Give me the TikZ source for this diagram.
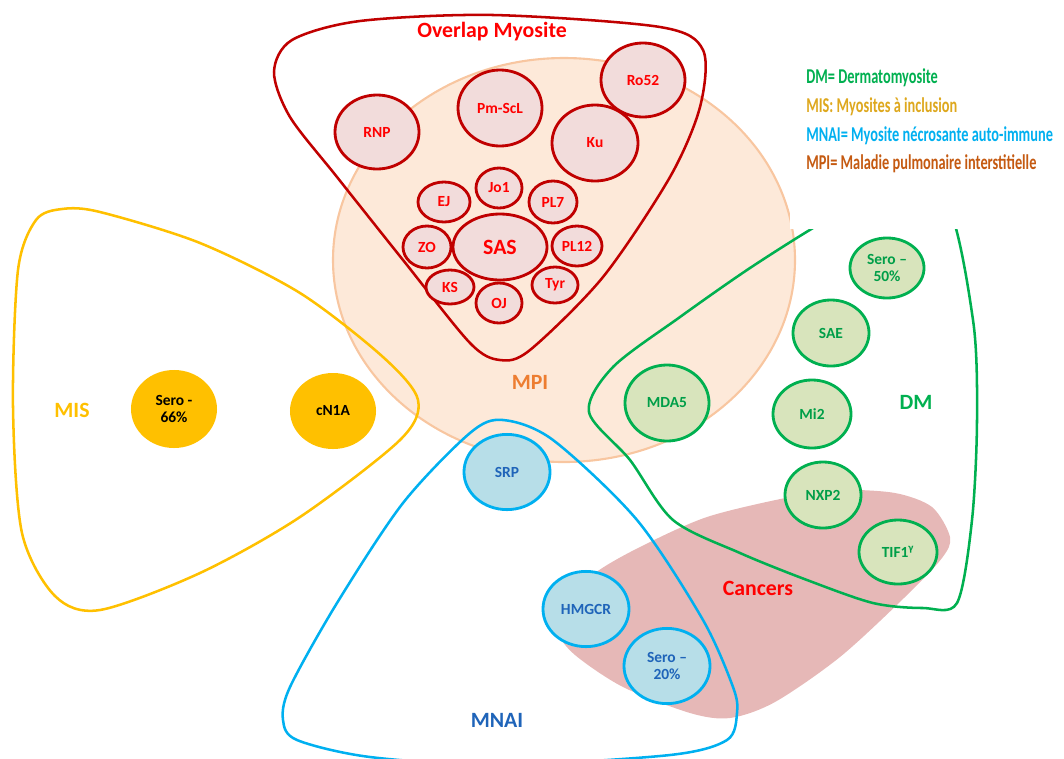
\documentclass[tikz,border=0pt]{standalone}
\usepackage{fontspec}
\setmainfont{Carlito}
\usetikzlibrary{shapes.geometric}

\definecolor{darkred}{RGB}{192,0,0}
\definecolor{pinkfill}{RGB}{242,220,219}
\definecolor{peach}{RGB}{253,233,217}
\definecolor{peachline}{RGB}{248,198,160}
\definecolor{mpiorange}{RGB}{237,125,49}
\definecolor{misyellow}{RGB}{255,192,0}
\definecolor{misdark}{RGB}{222,168,30}
\definecolor{dmgreen}{RGB}{0,176,80}
\definecolor{dmfill}{RGB}{216,228,188}
\definecolor{mnaiblue}{RGB}{0,176,240}
\definecolor{mnaifill}{RGB}{183,222,232}
\definecolor{mnaitext}{RGB}{31,100,185}
\definecolor{cancerfill}{RGB}{230,184,183}
\definecolor{mpibrown}{RGB}{197,90,17}

\begin{document}
\begin{tikzpicture}[x=0.025cm,y=-0.025cm]
		\tikzstyle{bubble}=[ellipse,inner sep=0pt,line width=2pt,align=center,font=\bfseries\fontsize{11}{12.5}\selectfont]
		\tikzstyle{overlapbub}=[bubble,draw=darkred,fill=pinkfill,text=red]
		\tikzstyle{dmbub}=[bubble,draw=dmgreen,fill=dmfill,text=dmgreen!90!black]
		\tikzstyle{mnaibub}=[bubble,draw=mnaiblue,fill=mnaifill,text=mnaitext]
		\tikzstyle{misbub}=[bubble,fill=misyellow,text=black]
		\tikzstyle{group}=[line width=1.8pt]
		\tikzstyle{grouplabel}=[font=\bfseries\fontsize{15.5}{17}\selectfont]
		\tikzstyle{legend}=[anchor=base west,inner sep=0pt,font=\bfseries\fontsize{15}{17}\selectfont]
		\useasboundingbox (0,0) rectangle (1064,758);
		
		\fill[peach,draw=peachline,line width=1.5pt] (564,260) ellipse [x radius=231, y radius=202];
		\fill[cancerfill] plot[smooth cycle] coordinates {(950,537) (932,507) (895,493) (840,490) (790,497) (707,517) (640,547) (595,573) (562,605) (558,632) (575,655) (623,687) (690,713) (730,718) (775,702) (840,657) (905,597) (942,558)};
		
		\draw[group,misyellow] plot[smooth cycle] coordinates {(36,220) (62,209) (100,212) (200,243) (300,293) (383,357) (418,400) (400,440) (300,517) (200,573) (100,610) (55,596) (22,533) (13,407) (18,270)};
		\draw[group,darkred] plot[smooth cycle] coordinates {(274,72) (292,40) (360,21) (493,15) (660,27) (703,50) (700,107) (670,177) (603,277) (530,350) (500,360) (470,343) (403,260) (337,177) (290,117)};
		\draw[group,dmgreen] plot[smooth cycle] coordinates {(589,412) (613,367) (680,317) (747,270) (813,228) (880,190) (945,200) (973,320) (977,420) (972,520) (957,603) (923,608) (873,603) (807,580) (740,553) (673,520) (630,460)};
		\draw[group,mnaiblue] plot[smooth cycle] coordinates {(503,420) (553,440) (637,520) (703,620) (733,687) (737,713) (727,740) (670,755) (500,765) (370,757) (297,740) (283,720) (290,687) (337,603) (403,503) (470,433)};
		
		\foreach \nm/\x/\y/\rx/\ry/\txt in {rnp/377/132/42/37/RNP, pmscl/500/108/42/38/Pm-ScL, ro52/643/80/42/37/Ro52, ku/595/143/43/38/Ku, jo1/499/188/23/20/Jo1, ej/444/202/26/20/EJ, pl7/553/202/24/21/PL7, zo/427/247/24/21/ZO, pl12/577/246/25/20/PL12, ks/450/287/24/17/KS, oj/499/303/23/20/OJ, tyr/555/285/23/18/Tyr}
		\node[overlapbub,minimum width=\rx*0.05cm,minimum height=\ry*0.05cm](\nm) at (\x,\y) {\txt};
		\node[overlapbub,minimum width=4.7cm*0.5,minimum height=3.3cm*0.5,font=\bfseries\fontsize{15.5}{17}\selectfont](sas) at (500,247) {SAS};
		
		\foreach \nm/\x/\y/\rx/\ry/\txt in {sero50/887/268/37/30/{Sero --\\50\%}, sae/831/333/38/33/SAE, mda5/667/403/42/38/MDA5, mi2/812/414/39/34/Mi2, nxp2/823/495/38/33/NXP2, tif1/898/552/39/32/{TIF1\textsuperscript{γ}}}
		\node[dmbub,minimum width=\rx*0.05cm,minimum height=\ry*0.05cm](\nm) at (\x,\y) {\txt};
		
		\foreach \nm/\x/\y/\txt in {srp/507/472/SRP, hmgcr/586/609/HMGCR, sero20/667/666/{Sero --\\20\%}}
		\node[mnaibub,minimum width=2.15cm,minimum height=1.88cm](\nm) at (\x,\y) {\txt};
		
		\node[misbub,minimum width=2.15cm,minimum height=1.95cm](sero66) at (174,409) {Sero -\\66\%};
		\node[misbub,minimum width=2.15cm,minimum height=1.9cm](cn1a) at (333,411) {cN1A};
		
		\fill[white] (790,45) rectangle (1064,229);
		
		\node[grouplabel,text=red](overlap) at (492,32) {Overlap Myosite};
		\node[grouplabel,text=mpiorange](mpi) at (530,382) {MPI};
		\node[grouplabel,text=misyellow](mis) at (72,410) {MIS};
		\node[grouplabel,text=dmgreen](dm) at (916,402) {DM};
		\node[grouplabel,text=mnaitext](mnai) at (497,720) {MNAI};
		\node[grouplabel,text=red](cancers) at (758,588) {Cancers};
		
		\node[legend,text=dmgreen](leg-dm) at (806,83) {\scalebox{0.68}[1]{DM= Dermatomyosite}};
		\node[legend,text=misdark](leg-mis) at (806,112) {\scalebox{0.68}[1]{MIS: Myosites à inclusion}};
		\node[legend,text=mnaiblue](leg-mnai) at (806,141) {\scalebox{0.68}[1]{MNAI= Myosite nécrosante auto-immune}};
		\node[legend,text=mpibrown](leg-mpi) at (806,169) {\scalebox{0.68}[1]{MPI= Maladie pulmonaire interstitielle}};
\end{tikzpicture}
\end{document}
